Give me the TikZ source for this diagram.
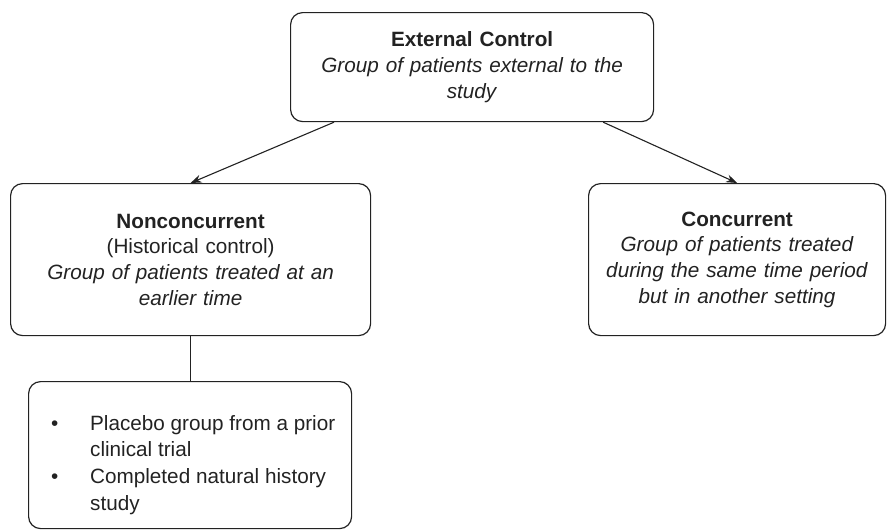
\documentclass[tikz,border=0pt]{standalone}
\usepackage{fontspec}
\setmainfont{Liberation Sans}
\usetikzlibrary{arrows.meta,calc}
\definecolor{ink}{HTML}{222222}
\begin{document}
\begin{tikzpicture}[x=1pt,y=1pt,
  box/.style={draw=ink, line width=1.2pt, rounded corners=12pt, anchor=north west,
    inner sep=0pt, align=center, text=ink,
    font=\fontsize{20.7}{25.6}\selectfont},
  arr/.style={draw=ink, line width=1.1pt, -{Stealth[length=11pt,width=8pt]}},
  lnk/.style={draw=ink, line width=1.1pt}]
\useasboundingbox (0,0) rectangle (887,-530);
\node[box, minimum width=363, minimum height=109, text width=350] (top) at (290,-12)
  {\textbf{External Control}\\ \textit{Group of patients external to the}\\ \textit{study}};
\node[box, minimum width=360, minimum height=152, text width=350] (left) at (10,-183)
  {\textbf{Nonconcurrent}\\ (Historical control)\\ \textit{Group of patients treated at an}\\ \textit{earlier time}};
\node[box, minimum width=297, minimum height=152, text width=292] (right) at (588,-183)
  {\textbf{Concurrent}\\ \textit{Group of patients treated}\\ \textit{during the same time period}\\ \textit{but in another setting}};
\node[box, minimum width=323, minimum height=147] (list) at (28,-381) {};
\node[anchor=north west, inner sep=0pt, align=left, text=ink,
  font=\fontsize{20.7}{26.7}\selectfont] (listtext) at (51,-415)
  {\makebox[39pt][l]{\textbullet}Placebo group from a prior\\
   \hspace*{39pt}clinical trial\\
   \makebox[39pt][l]{\textbullet}Completed natural history\\
   \hspace*{39pt}study};
\draw[arr] ($(top.south west)+(44,0)$) -- (left.north);
\draw[arr] ($(top.south east)+(-51,0)$) -- (right.north);
\draw[lnk] (left.south) -- (left.south |- list.north);
\end{tikzpicture}
\end{document}
